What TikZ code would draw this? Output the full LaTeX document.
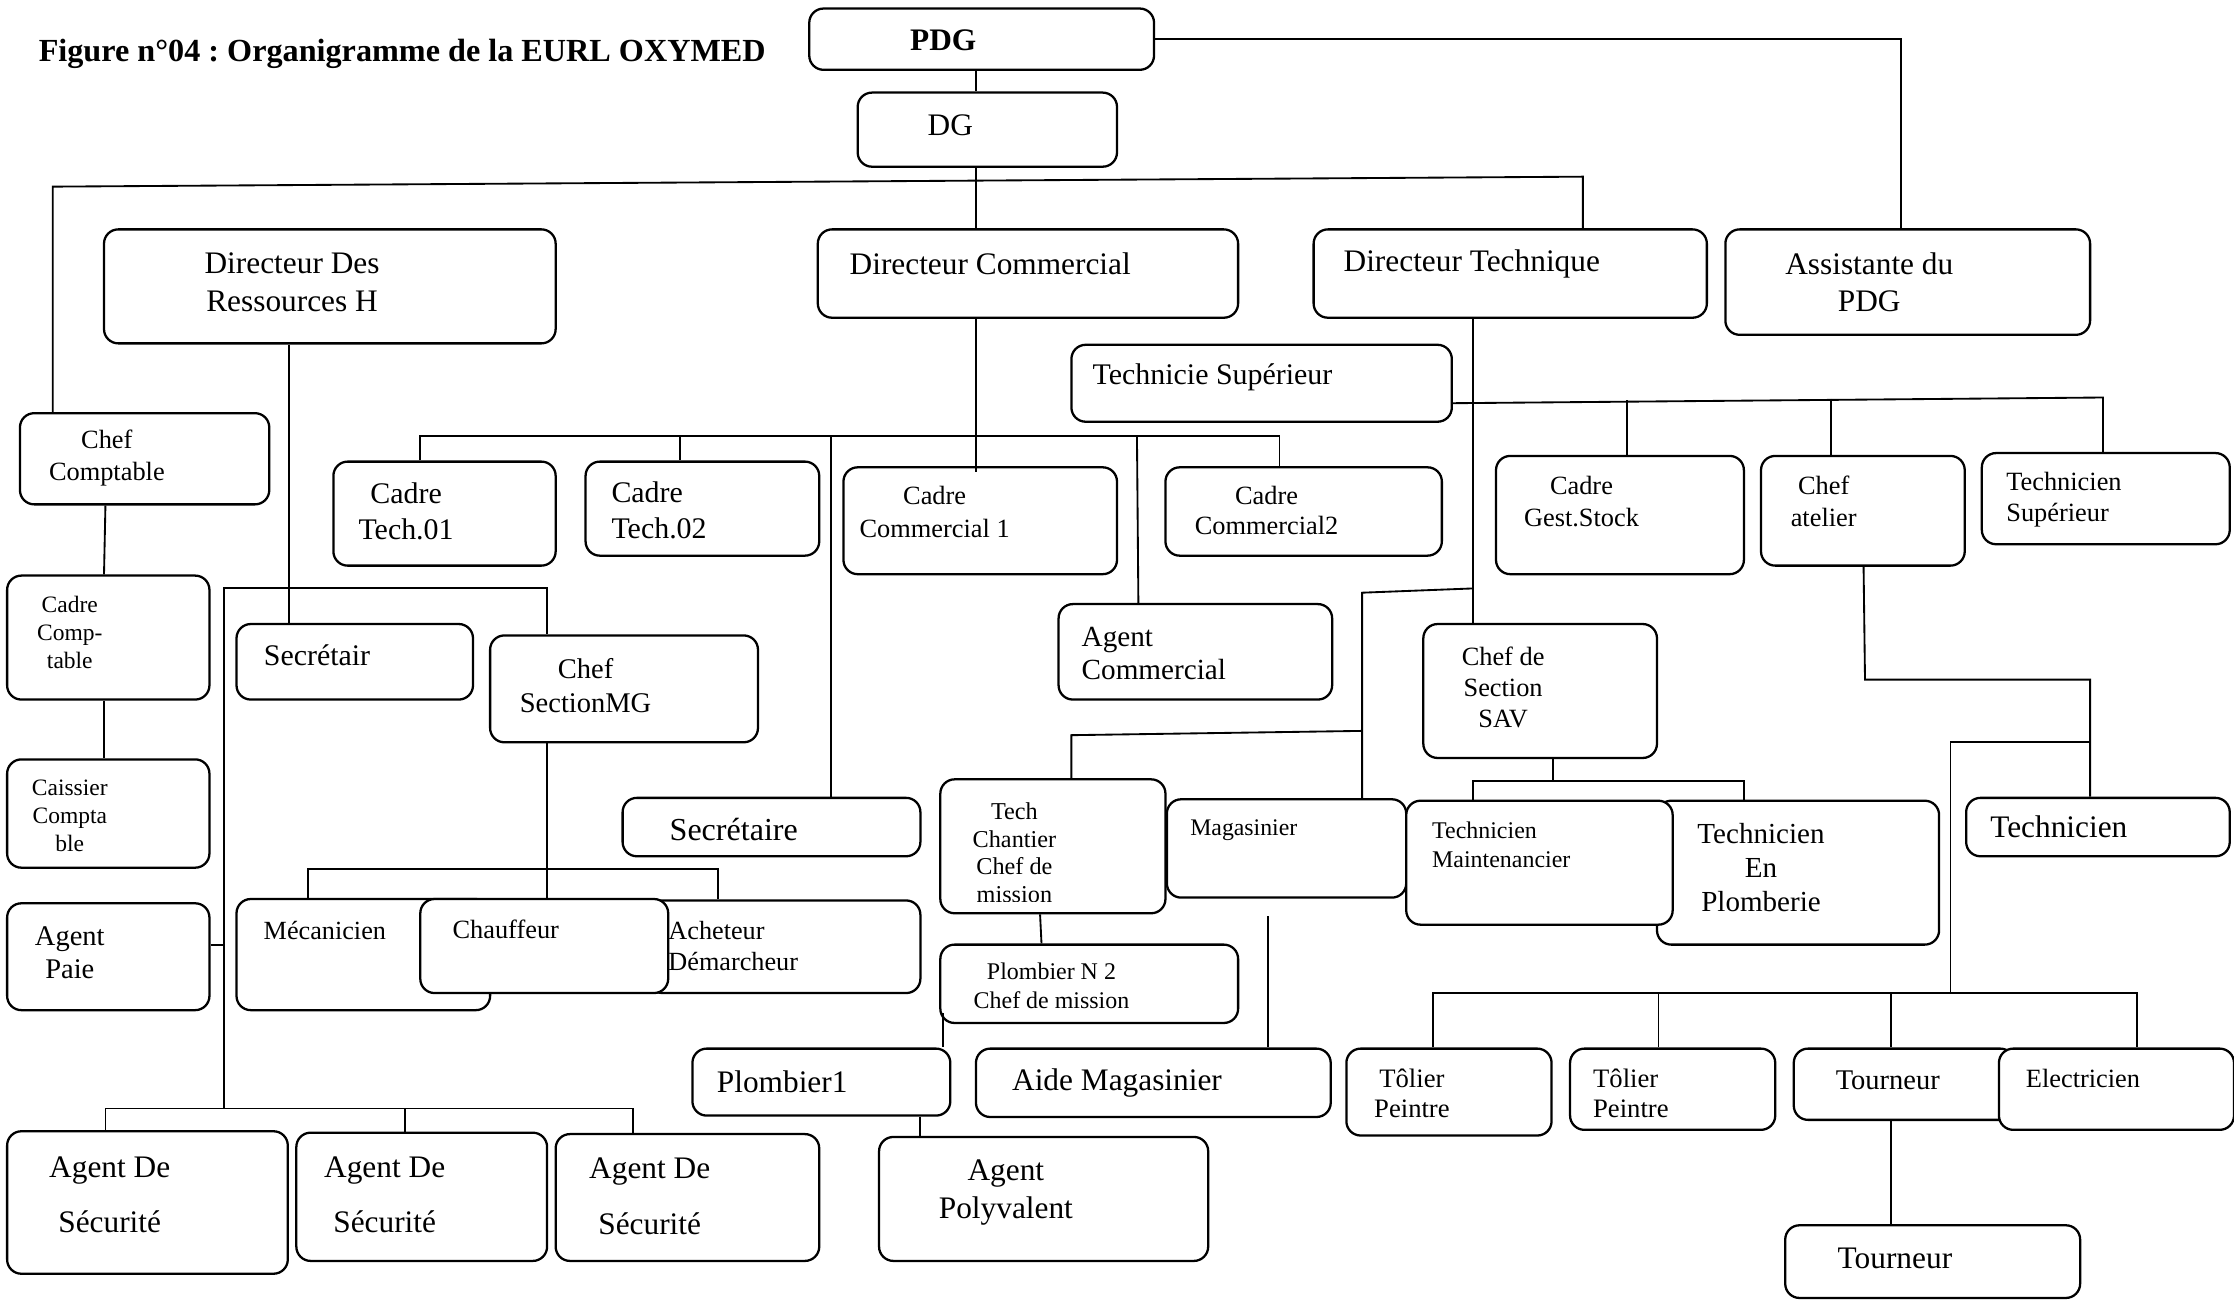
\documentclass[tikz,border=0pt]{standalone}
\usepackage{fontspec}
\setmainfont{Liberation Serif}
\frenchspacing
\tikzset{
  box/.style={draw, rounded corners=10pt, line width=1.6pt, fill=white, inner sep=0pt},
  ln/.style={line width=1.3pt},
  t/.style={inner sep=0pt, align=center},
  tl/.style={inner sep=0pt, align=left, anchor=west},
  fs/.style 2 args={font=\fontsize{#1}{#2}\selectfont},
}
\newcommand\bx[5]{\node[box, minimum width={(#4-#2)*1pt}, minimum height={(#5-#3)*1pt}] (#1) at ({(#2+#4)/2},{(#3+#5)/2}) {};}
\begin{document}
\begin{tikzpicture}[x=1pt,y=-1pt]
\useasboundingbox[fill=white] (0,0) rectangle (1568,912);
% title
\node[tl, font=\bfseries\fontsize{22.6}{26}\selectfont] (title) at (27,38) {Figure n°04 : Organigramme de la EURL OXYMED};
% boxes and texts
\bx{PDG}{568}{6}{810}{49}
\node[t, font=\bfseries\fontsize{22}{26}\selectfont] (PDGt) at (662,28) {PDG};
\bx{DG}{602}{65}{784}{117}
\node[t, fs={22}{26}] (DGt) at (667,88) {DG};
\bx{drh}{73}{161}{390}{241}
\node[t, fs={22}{27}] (drht) at (205,198) {Directeur Des\\Ressources H};
\bx{dc}{574}{161}{869}{223}
\node[t, fs={22}{27}] (dct) at (695,185) {Directeur Commercial};
\bx{dt}{922}{161}{1198}{223}
\node[t, fs={22}{27}] (dtt) at (1033,185.5) {Directeur Technique};
\bx{ass}{1211}{161}{1467}{235}
\node[t, fs={22}{26}] (asst) at (1312,198) {Assistante du\\PDG};
\bx{ts}{752}{242}{1019}{296}
\node[t, fs={21}{25}] (tst) at (851,265) {Technicie Supérieur};
\bx{cc}{14}{290}{189}{354}
\node[t, fs={18.5}{22}] (cct) at (75,321.5) {Chef\\Comptable};
\bx{ct1}{234}{324}{390}{397}
\node[t, fs={21}{25}] (ct1t) at (285,359) {Cadre\\Tech.01};
\bx{ct2}{411}{324}{575}{390}
\node[tl, fs={21}{25}] (ct2t) at (429,358) {Cadre\\Tech.02};
\bx{ccom1}{592}{328}{784}{403}
\node[t, fs={18.5}{23}] (ccom1t) at (656,359.5) {Cadre\\Commercial 1};
\bx{ccom2}{818}{328}{1012}{390}
\node[t, fs={18.5}{21}] (ccom2t) at (889,358.5) {Cadre\\Commercial2};
\bx{cgs}{1050}{320}{1224}{403}
\node[t, fs={18.5}{22}] (cgst) at (1110,352) {Cadre\\Gest.Stock};
\bx{cat}{1236}{320}{1379}{397}
\node[t, fs={18.5}{22}] (catt) at (1280,352) {Chef\\atelier};
\bx{tsup}{1391}{318}{1565}{382}
\node[tl, fs={18.5}{22}] (tsupt) at (1408,350.5) {Technicien\\Supérieur};
\bx{ccomp}{5}{404}{147}{491}
\node[t, fs={16.5}{19.5}] (ccompt) at (49,444) {Cadre\\Comp-\\table};
\bx{sec1}{166}{438}{332}{491}
\node[tl, fs={21}{25}] (sec1t) at (185,460) {Secrétair};
\bx{csmg}{344}{446}{532}{521}
\node[t, fs={20}{24}] (csmgt) at (411,481) {Chef\\SectionMG};
\bx{acom}{743}{424}{935}{491}
\node[tl, fs={20.5}{23}] (acomt) at (759,458.5) {Agent\\Commercial};
\bx{sav}{999}{438}{1163}{532}
\node[t, fs={18.5}{21.5}] (savt) at (1055,482.5) {Chef de\\Section\\SAV};
\bx{cais}{5}{533}{147}{609}
\node[t, fs={16.5}{19.5}] (caist) at (49,572.5) {Caissier\\Compta\\ble};
\bx{secr}{437}{560}{646}{601}
\node[t, fs={22.5}{26}] (secrt) at (515,582) {Secrétaire};
\bx{tch}{660}{547}{818}{641}
\begin{scope}
\clip (660,547) rectangle (818,633);
\node[t, fs={17}{19.3}] (tcht) at (712,598.5) {Tech\\Chantier\\Chef de\\mission};
\end{scope}
\bx{mag}{819}{561}{987}{630}
\node[t, fs={16.7}{20}] (magt) at (873,582.5) {Magasinier};
\bx{tplomb}{1163}{562}{1361}{663}
\node[t, fs={20.4}{24}] (tplombt) at (1236,609) {Technicien\\En\\Plomberie};
\bx{tmain}{987}{562}{1174}{649}
\node[tl, fs={16.8}{20}] (tmaint) at (1005,593) {Technicien\\Maintenancier};
\bx{tech}{1380}{560}{1565}{601}
\node[t, fs={22}{26}] (techt) at (1445,580) {Technicien};
\bx{ap}{5}{634}{147}{709}
\node[t, fs={20}{23}] (apt) at (49,668.5) {Agent\\Paie};
\bx{mec}{166}{631}{344}{709}
\node[t, fs={18.4}{22}] (mect) at (228,653) {Mécanicien};
\bx{ach}{455}{632}{646}{697}
\node[tl, fs={18.4}{22}] (acht) at (469,664) {Acheteur\\Démarcheur};
\bx{chauf}{295}{631}{469}{697}
\node[t, fs={18.5}{22}] (chauft) at (355,652.5) {Chauffeur};
\bx{pn2}{660}{663}{869}{718}
\node[t, fs={16.8}{20}] (pn2t) at (738,692) {Plombier N 2\\Chef de mission};
\bx{pl1}{486}{736}{667}{783}
\node[t, fs={22}{26}] (pl1t) at (549,759) {Plombier1};
\bx{aide}{685}{736}{934}{784}
\node[t, fs={22}{26}] (aidet) at (784,760) {Aide Magasinier};
\bx{tol1}{945}{736}{1089}{797}
\node[t, fs={18.7}{21}] (tol1t) at (991,767.5) {Tôlier\\Peintre};
\bx{tol2}{1102}{736}{1246}{793}
\node[tl, fs={18.7}{21}] (tol2t) at (1118,767.5) {Tôlier\\Peintre};
\bx{tour}{1259}{736}{1414}{786}
\node[t, fs={20}{24}] (tourt) at (1325,758.5) {Tourneur};
\bx{elec}{1403}{736}{1568}{793}
\node[t, fs={18.5}{22}] (elect) at (1462,757) {Electricien};
\bx{ads1}{5}{794}{202}{894}
\node[t, fs={22}{39}] (ads1t) at (77,838.5) {Agent De\\Sécurité};
\bx{ads2}{208}{795}{384}{885}
\node[t, fs={22}{39}] (ads2t) at (270,838.5) {Agent De\\Sécurité};
\bx{ads3}{390}{796}{575}{885}
\node[t, fs={22}{39}] (ads3t) at (456,839.5) {Agent De\\Sécurité};
\bx{apoly}{617}{798}{848}{885}
\node[t, fs={22}{26}] (apolyt) at (706,837) {Agent\\Polyvalent};
\bx{tour2}{1253}{860}{1460}{911}
\node[t, fs={22}{26}] (tour2t) at (1330,883.5) {Tourneur};
% connectors
\draw[ln] (PDG.east) -| (ass.north -| 1334,0);
\draw[ln] (PDG.south -| 685,0) -- (DG.north -| 685,0);
\draw[ln] (DG.south -| 685,0) -- (dc.north -| 685,0);
\coordinate (hl) at (37,131);
\coordinate (hr) at (1111,124);
\draw[ln] (cc.north -| hl) -- (hl) -- (hr) -- (dt.north -| hr);
% RH branch
\draw[ln] (drh.south -| 203,0) -- (sec1.north -| 203,0);
\coordinate (j1) at (157,413);
\coordinate (j2) at (384,413);
\coordinate (j3) at (157,778);
\draw[ln] (j3) -- (j1) -- (j2) -- (csmg.north -| j2);
\draw[ln] (ap.east |- 0,663) -- (j1 |- 0,663);
\coordinate (s1) at (74,778);
\coordinate (s2) at (284,778);
\coordinate (s3) at (444,778);
\draw[ln] (ads1.north -| s1) -- (s1) -- (s3) -- (ads3.north -| s3);
\draw[ln] (s2) -- (ads2.north -| s2);
\draw[ln] (csmg.south -| 384,0) -- (chauf.north -| 384,0);
\coordinate (g1) at (216,610);
\coordinate (g2) at (504,610);
\draw[ln] (mec.north -| g1) -- (g1) -- (g2) -- (ach.north -| g2);
% comptable
\draw[ln] (cc.south -| 74,0) -- (ccomp.north -| 73,0);
\draw[ln] (ccomp.south -| 73,0) -- (cais.north -| 73,0);
% commercial
\coordinate (dce) at (685,331);
\draw[ln] (dc.south -| dce) -- (dce);
\coordinate (b1) at (295,306);
\coordinate (b2) at (898,306);
\draw[ln] (ct1.north -| b1) -- (b1) -- (b2) -- (ccom2.north -| b2);
\draw[ln] (477,306) -- (ct2.north -| 477,0);
\draw[ln] (583,306) -- (secr.north -| 583,0);
\draw[ln] (798,306) -- (acom.north -| 799,0);
% technique
\draw[ln] (dt.south -| 1034,0) -- (sav.north -| 1034,0);
\coordinate (tr) at (1476,279);
\draw[ln] (ts.east |- 0,283) -- (tr) -- (tsup.north -| tr);
\draw[ln] (1142,281) -- (cgs.north -| 1142,0);
\draw[ln] (1285,280) -- (cat.north -| 1285,0);
\coordinate (m1) at (1034,413);
\coordinate (m2) at (956,416);
\draw[ln] (m1) -- (m2) -- (mag.north -| m2);
\coordinate (m3) at (956,513);
\coordinate (m4) at (752,516);
\draw[ln] (m3) -- (m4) -- (tch.north -| m4);
\draw[ln] (tch.south -| 730,0) -- (pn2.north -| 731,0);
\coordinate (p1) at (662,711);
\draw[ln] (p1) -- (pl1.north -| p1);
\draw[ln] (pl1.south -| 646,0) -- (apoly.north -| 646,0);
\coordinate (ma1) at (890,643);
\draw[ln] (ma1) -- (aide.north -| ma1);
\coordinate (sv) at (1090,548);
\draw[ln] (sav.south -| sv) -- (sv);
\coordinate (sv1) at (1034,548);
\coordinate (sv2) at (1224,548);
\draw[ln] (tmain.north -| sv1) -- (sv1) -- (sv2) -- (tplomb.north -| sv2);
\coordinate (a1) at (1309,477);
\coordinate (a2) at (1467,477);
\draw[ln] (cat.south -| 1308,0) -- (a1) -- (a2) -- (tech.north -| a2);
\coordinate (a3) at (1467,521);
\coordinate (a4) at (1369,521);
\coordinate (a5) at (1369,697);
\draw[ln] (a3) -- (a4) -- (a5);
\coordinate (w1) at (1006,697);
\coordinate (w2) at (1500,697);
\draw[ln] (tol1.north -| w1) -- (w1) -- (w2) -- (elec.north -| w2);
\draw[ln] (1164,697) -- (tol2.north -| 1164,0);
\draw[ln] (1327,697) -- (tour.north -| 1327,0);
\draw[ln] (tour.south -| 1327,0) -- (tour2.north -| 1327,0);
\end{tikzpicture}
\end{document}
